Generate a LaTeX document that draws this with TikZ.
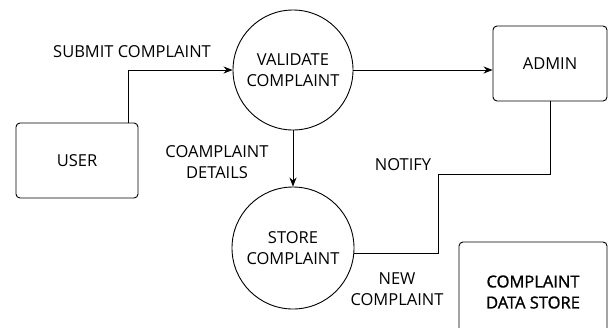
\documentclass[tikz,border=0pt]{standalone}
\usepackage{fontspec}
\setmainfont{Open Sans}
\usetikzlibrary{arrows.meta}

\tikzset{
  proc/.style={draw, circle, line width=0.9pt, minimum size=120pt, inner sep=0pt, align=center},
  ent/.style={draw, rectangle, rounded corners=4pt, line width=0.9pt, align=center},
  flow/.style={line width=0.9pt},
  lbl/.style={align=center}
}

\begin{document}
\begin{tikzpicture}[x=1pt, y=-1pt, >={Stealth[length=9pt,width=7pt]}, every node/.style={font=\fontsize{16.5}{21}\selectfont}]
  \clip (0,0) rectangle (609,327);

  \node[ent, minimum width=122pt, minimum height=75pt] (user) at (77,160.5) {USER};
  \node[proc] (val) at (293,70) {VALIDATE\\COMPLAINT};
  \node[ent, minimum width=114pt, minimum height=75pt] (admin) at (550,63.5) {ADMIN};
  \node[proc, minimum size=122pt] (store) at (293,248) {STORE\\COMPLAINT};
  \node[ent, minimum width=148pt, minimum height=100pt] (db) at (533,292)
    {\addfontfeatures{FakeBold=1.2}COMPLAINT\\\addfontfeatures{FakeBold=1.2}DATA STORE};

  % flows
  \coordinate (up) at (128,123);
  \coordinate (bend) at (438,174);
  \draw[flow, ->] (up) |- (val.west);
  \draw[flow, ->] (val.east) -- (val.east -| admin.west);
  \draw[flow, ->] (val.south) -- (store.north);
  \draw[flow] (admin.south) |- (bend) |- (store.-5);

  % flow labels
  \node[lbl] (l1) at (132,52) {SUBMIT COMPLAINT};
  \node[lbl] (l2) at (217,162) {COAMPLAINT\\DETAILS};
  \node[lbl] (l3) at (403,165) {NOTIFY};
  \node[lbl] (l4) at (397,289) {NEW\\COMPLAINT};
\end{tikzpicture}
\end{document}
